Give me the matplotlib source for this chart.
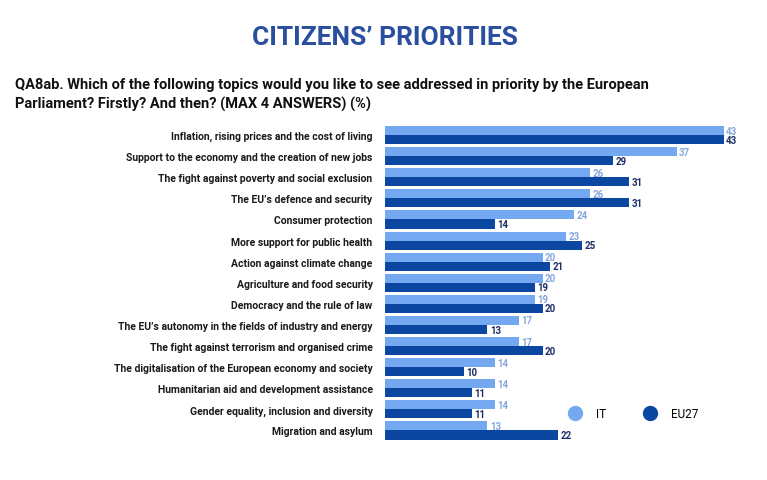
import matplotlib
matplotlib.use('agg')
import matplotlib.pyplot as plt
import numpy as np

topics = [
    "Inflation, rising prices and the cost of living",
    "Support to the economy and the creation of new jobs",
    "The fight against poverty and social exclusion",
    "The EU\u2019s defence and security",
    "Consumer protection",
    "More support for public health",
    "Action against climate change",
    "Agriculture and food security",
    "Democracy and the rule of law",
    "The EU\u2019s autonomy in the fields of industry and energy",
    "The fight against terrorism and organised crime",
    "The digitalisation of the European economy and society",
    "Humanitarian aid and development assistance",
    "Gender equality, inclusion and diversity",
    "Migration and asylum",
]
it_values = [43, 37, 26, 26, 24, 23, 20, 20, 19, 17, 17, 14, 14, 14, 13]
eu_values = [43, 29, 31, 31, 14, 25, 21, 19, 20, 13, 20, 10, 11, 11, 22]

light = "#74a9f2"
dark = "#0b47a0"

plt.rcParams['font.family'] = ['Roboto', 'DejaVu Sans']

fig = plt.figure(figsize=(7.67, 4.81), dpi=100)
ax = fig.add_axes([0.502, 0.081, 0.493, 0.658])

y = np.arange(len(topics))
h = 0.43
ax.barh(y - h / 2, it_values, height=h, color=light)
ax.barh(y + h / 2, eu_values, height=h, color=dark)

for yi, v in zip(y, it_values):
    ax.text(v + 0.3, yi - h / 2, str(v), va='center', ha='left',
            fontsize=7, color="#86a8dc", fontweight='bold')
for yi, v in zip(y, eu_values):
    ax.text(v + 0.3, yi + h / 2, str(v), va='center', ha='left',
            fontsize=7, color="#1c2f66", fontweight='bold')

ax.set_xlim(0, 48)
ax.set_ylim(len(topics) - 0.5, -0.5)
ax.set_yticks(y)
ax.set_yticklabels(topics, fontsize=7.5, fontweight='bold', color="#1a1a1a")
ax.tick_params(axis='y', length=0, pad=9)
ax.set_xticks([])
for s in ax.spines.values():
    s.set_visible(False)

fig.text(0.502, 1 - 38 / 481, "CITIZENS\u2019 PRIORITIES", ha='center', va='center',
         fontsize=19, fontweight='bold', color="#2b4f9f")
fig.text(15 / 767, 1 - 95 / 481,
         "QA8ab. Which of the following topics would you like to see addressed in priority by the European\n"
         "Parliament? Firstly? And then? (MAX 4 ANSWERS) (%)",
         ha='left', va='center', fontsize=10.5, fontweight='bold', color="#111111",
         linespacing=1.35)

ax.scatter([], [], s=100, color=light, label="IT")
ax.scatter([], [], s=100, color=dark, label="EU27")
fig.legend(loc='center', bbox_to_anchor=(631 / 767, 1 - 414 / 481), ncol=2,
           frameon=False, fontsize=8.5, handletextpad=0.8, columnspacing=2.7,
           scatterpoints=1)

fig.savefig("out.png", dpi=100)
plt.close(fig)
